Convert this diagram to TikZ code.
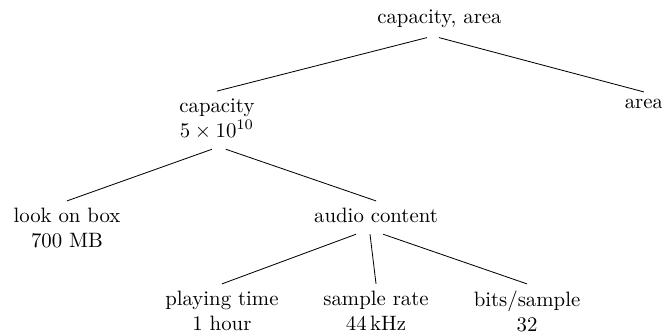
\documentclass[tikz,border=0pt]{standalone}
\begin{document}
\begin{tikzpicture}[x=1pt, y=1pt, every node/.style={align=center, anchor=north}]
    \useasboundingbox (0, 0) rectangle (318.3, -161);
    \node (top) at (211.3, -1.4) {capacity, area};
    \node (cap) at (104.3, -43.8) {capacity\\$5 \times 10^{10}$};
    \node (area) at (309.6, -44.2) {area};
    \node (box) at (32.2, -96.6) {look on box\\700 MB};
    \node (audio) at (180.8, -96.6) {audio content};
    \node (time) at (106.7, -136.5) {playing time\\1 hour};
    \node (rate) at (180.8, -136.5) {sample rate\\44\,kHz};
    \node (bits) at (253.4, -136.5) {bits/sample\\32};
    \draw ([shift={(-6pt, -1pt)}]top.south) -- (cap.north);
    \draw ([shift={(-0.2pt, -1pt)}]top.south) -- (area.north);
    \draw ([shift={(-2.4pt, -1.5pt)}]cap.south) -- (box.north);
    \draw ([shift={(4.3pt, -1.5pt)}]cap.south) -- (audio.north);
    \draw ([shift={(-9.6pt, -1.9pt)}]audio.south) -- (time.north);
    \draw ([shift={(-2.9pt, -1.9pt)}]audio.south) -- (rate.north);
    \draw ([shift={(3.4pt, -1.9pt)}]audio.south) -- (bits.north);
\end{tikzpicture}
\end{document}
